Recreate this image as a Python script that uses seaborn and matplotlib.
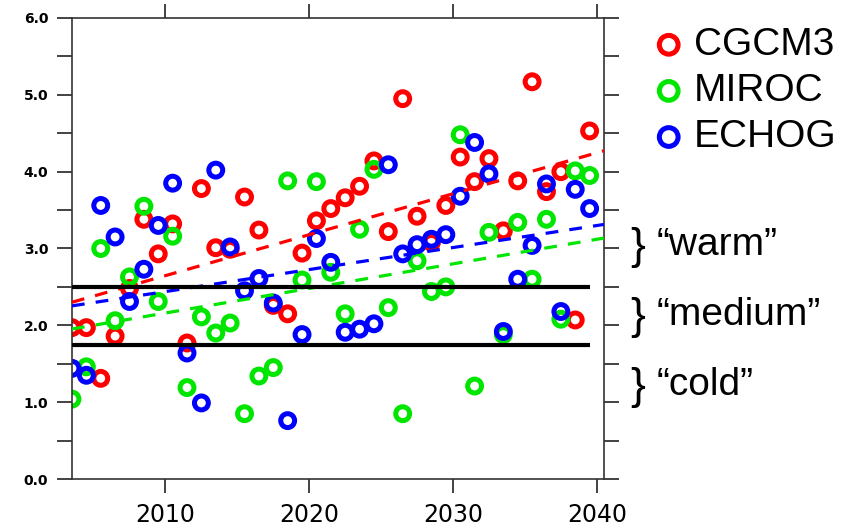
import matplotlib
matplotlib.use("Agg")
import matplotlib.pyplot as plt
import numpy as np
import pandas as pd
import seaborn as sns

# one value per model per year, plotted at mid-year
years = np.arange(2003, 2040)
models = ["CGCM3", "MIROC", "ECHOG"]
colors = ["#ff0000", "#00e600", "#0000ff"]

cgcm3 = [1.97, 1.97, 1.31, 1.86, 2.48, 3.38, 2.93, 3.32, 1.77, 3.78,
         3.01, 2.99, 3.67, 3.24, 2.26, 2.15, 2.94, 3.36, 3.52, 3.66,
         3.81, 4.14, 3.22, 4.95, 3.42, 3.08, 3.56, 4.19, 3.87, 4.17,
         3.23, 3.88, 5.17, 3.74, 4.00, 2.07, 4.53]
miroc = [1.04, 1.46, 3.00, 2.06, 2.63, 3.55, 2.31, 3.16, 1.19, 2.11,
         1.90, 2.03, 0.85, 1.34, 1.45, 3.88, 2.59, 3.87, 2.69, 2.15,
         3.25, 4.03, 2.23, 0.85, 2.84, 2.44, 2.50, 4.48, 1.21, 3.21,
         1.88, 3.34, 2.60, 3.38, 2.08, 4.01, 3.95]
echog = [1.44, 1.35, 3.56, 3.15, 2.31, 2.73, 3.30, 3.85, 1.64, 0.99,
         4.02, 3.02, 2.45, 2.61, 2.29, 0.76, 1.88, 3.13, 2.82, 1.91,
         1.95, 2.02, 4.09, 2.93, 3.05, 3.12, 3.18, 3.68, 4.38, 3.97,
         1.92, 2.60, 3.04, 3.84, 2.18, 3.77, 3.52]

thresholds = [1.75, 2.5]
bands = ["\u201cwarm\u201d", "\u201cmedium\u201d", "\u201ccold\u201d"]

df = pd.DataFrame({
    "year": np.tile(years, 3) + 0.5,
    "value": cgcm3 + miroc + echog,
    "model": np.repeat(models, len(years)),
})

sns.set_theme(style="ticks")
plt.rcParams["font.family"] = ["DejaVu Sans"]
plt.rcParams["text.color"] = "black"
big_font = ["Liberation Sans", "DejaVu Sans"]

fig, ax = plt.subplots(figsize=(8.61, 5.29), dpi=100)
fig.subplots_adjust(left=0.0836, right=0.7015, bottom=0.0945, top=0.966)
ax.set_xlim(2003.5, 2040.5)
ax.set_ylim(0, 6)

for model, color in zip(models, colors):
    sub = df[df["model"] == model]
    sns.scatterplot(data=sub, x="year", y="value", ax=ax, s=100,
                    color=color, facecolors="none", edgecolors=color,
                    linewidth=3.6, label=model, zorder=2)

for model, color in zip(models, colors):
    sub = df[df["model"] == model]
    sns.regplot(data=sub, x="year", y="value", ax=ax, scatter=False,
                ci=None, truncate=False,
                line_kws=dict(color=color, lw=2.3, dashes=(4, 3.5), zorder=3))

ax.hlines(thresholds, xmin=df["year"].min(), xmax=df["year"].max(),
          colors="black", lw=3.0, zorder=4)

ax.set_xlabel("")
ax.set_ylabel("")
ax.set_xticks([2010, 2020, 2030, 2040], ["2010", "2020", "2030", "2040"],
              fontsize=17, color="black")
ax.set_yticks(np.arange(0, 7), [f"{v:.1f}" for v in range(7)],
              fontsize=10, fontweight="bold", color="black")
ax.set_yticks(np.arange(0.5, 6, 1.0), minor=True)
ax.tick_params(axis="y", which="both", direction="out", length=11,
               width=1.2, left=True, right=True, pad=6, color="#222222")
ax.tick_params(axis="x", which="major", direction="out", length=10,
               width=1.2, top=True, bottom=True, pad=7, color="#222222")
ax.tick_params(axis="x", which="minor", bottom=False, top=False)
for side in ["left", "right", "top", "bottom"]:
    ax.spines[side].set_visible(True)
    ax.spines[side].set_linewidth(1.2)
    ax.spines[side].set_color("#333333")

handles, labels = ax.get_legend_handles_labels()
ax.legend_ = None
fig.legend(handles[:3], labels[:3], loc="upper left",
           bbox_to_anchor=(659 / 861, 1 - 27 / 529), frameon=False,
           borderpad=0, borderaxespad=0, handlelength=0.5,
           handletextpad=0.4, labelspacing=0.26, markerscale=1.35,
           labelcolor="black", prop=dict(family=big_font, size=28))

for label, yc in zip(bands, [247, 317, 387]):
    fig.text(630 / 861, 1 - yc / 529, "}", ha="left", va="center",
             family=big_font, fontsize=32, color="black")
    fig.text(657 / 861, 1 - (yc - 2) / 529, label, ha="left", va="center",
             family=big_font, fontsize=28, color="black")

fig.savefig("out.png", dpi=100)
